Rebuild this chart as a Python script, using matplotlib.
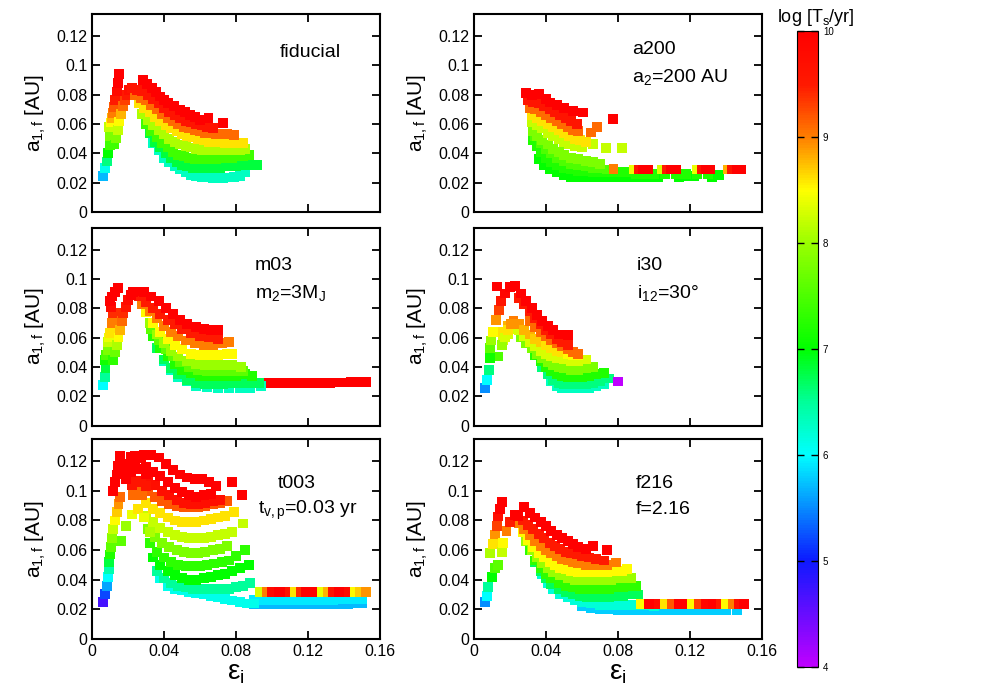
import numpy as np
import matplotlib.pyplot as plt
from matplotlib.colors import LinearSegmentedColormap, Normalize

plt.rcParams['font.family'] = ['Liberation Sans', 'DejaVu Sans']
plt.rcParams['mathtext.fontset'] = 'custom'
plt.rcParams['mathtext.rm'] = 'Liberation Sans'
plt.rcParams['mathtext.it'] = 'Liberation Sans:italic'

# ---- fiducial: each row is one track of squares (eps_i, a_1f), colour = log Ts
fid_eps = [
    [.0059, .0072, .0082, .0091, .0100, .0098, .0096, .0103, .0109, .0114, .0120, .0128, .0137, .0145, .0152],
    [.0125, .0133, .0143, .0152, .0161, .017, .0182, .0193, .0206, .022],
    [.034, .037, .040, .043, .046, .049, .052, .055, .058, .061, .064, .067, .070, .073, .076, .079, .082, .085],
    [.032, .035, .038, .041, .044, .047, .050, .053, .056, .059, .062, .065, .068, .071, .074, .077, .080, .083, .086, .089, .0915],
    [.030, .033, .036, .039, .042, .045, .048, .051, .054, .057, .060, .063, .066, .069, .072, .075, .078, .081, .084, .087],
    [.028, .031, .034, .037, .040, .043, .046, .049, .052, .055, .058, .061, .064, .067, .070, .073, .076, .079, .082, .085],
    [.026, .029, .032, .035, .038, .041, .044, .047, .050, .053, .056, .059, .062, .065, .068, .071, .074, .077, .080, .084],
    [.024, .027, .030, .033, .036, .039, .042, .045, .048, .051, .054, .057, .060, .063, .066, .069, .072, .075, .079],
    [.022, .025, .028, .031, .034, .037, .040, .043, .046, .049, .052, .055, .058, .061, .064, .067],
    [.0282, .0307, .0332, .0355, .0378, .0401, .0424, .0457, .049, .0518, .0545, .0572, .060, .0647, .073],
]
fid_a = [
    [.0246, .0298, .0344, .0401, .0458, .052, .0578, .061, .064, .0675, .0715, .0765, .0822, .088, .094],
    [.046, .0503, .056, .0617, .067, .072, .076, .080, .083, .0845],
    [.047, .042, .037, .034, .031, .029, .027, .0255, .0245, .024, .0235, .0232, .0232, .0232, .0235, .024, .0245, .0275],
    [.054, .048, .044, .040, .037, .034, .032, .031, .030, .030, .030, .030, .030, .030, .031, .031, .031, .032, .032, .032, .032],
    [.060, .055, .051, .047, .044, .041, .039, .038, .037, .036, .036, .036, .036, .036, .037, .037, .037, .038, .038, .039],
    [.067, .063, .059, .056, .053, .050, .048, .046, .045, .044, .043, .042, .042, .042, .042, .042, .042, .042, .042, .043],
    [.074, .071, .068, .065, .062, .059, .057, .055, .053, .052, .051, .050, .049, .048, .048, .048, .047, .047, .047, .047],
    [.080, .078, .076, .073, .070, .067, .064, .062, .060, .058, .057, .056, .055, .054, .054, .053, .053, .053, .0526],
    [.0845, .083, .0825, .080, .077, .074, .071, .068, .066, .064, .062, .061, .060, .059, .058, .0575],
    [.0902, .0873, .0845, .0816, .0788, .0765, .0742, .072, .0697, .068, .0663, .0645, .0628, .064, .0606],
]
fid_logT = [
    [5.7, 6.1, 6.6, 7.0, 7.4, 7.8, 8.2, 8.5, 8.8, 9.0, 9.2, 9.5, 9.8, 10, 10],
    [7.4, 7.8, 8.2, 8.5, 8.8, 9.1, 9.3, 9.5, 9.7, 9.8],
    6.3, 6.8, 7.4, 8.1, 8.6, 9.1, 9.6, 10,
]

# ---- a200
a200_eps = [
    [.036, .039, .042, .046, .050, .054, .058, .062, .066, .070, .074, .078, .082, .086, .090, .094, .098, .102, .114, .118, .122, .132, .136],
    [.033, .035, .037, .040, .043, .046, .050, .054, .058, .062, .066, .070, .074, .078, .082, .086, .090, .095, .100, .106, .112, .118, .124, .130],
    [.034, .037, .040, .043, .046, .050, .054, .058, .062, .066, .070, .074],
    [.033, .035, .038, .041, .044, .047, .050, .054, .058, .062, .066, .070],
    [.032, .035, .038, .041, .044, .047, .050, .053, .056, .060, .066, .0733, .082],
    [.032, .035, .038, .041, .044, .047, .050, .053, .056, .059, .062],
    [.031, .034, .037, .040, .043, .046, .049, .052, .055, .058, .0648, .0685],
    [.030, .033, .036, .039, .042, .045, .048, .051, .054, .057],
    [.029, .032, .0363, .040, .0422, .046, .050, .055, .0604, .0774],
    [.0775, .089, .0915, .094, .0965, .1045, .107, .1095, .112, .124, .1265, .129, .131, .141, .1435, .146, .1485],
]
a200_a = [
    [.036, .032, .029, .027, .025, .024, .0235, .0235, .0235, .0235, .0235, .0235, .024, .024, .024, .024, .024, .024, .024, .0245, .0245, .024, .025],
    [.049, .045, .041, .037, .034, .032, .030, .029, .028, .028, .027, .027, .027, .027, .027, .027, .026, .026, .026, .026, .026, .026, .026, .026],
    [.052, .047, .043, .040, .037, .035, .033, .032, .031, .030, .030, .029],
    [.055, .052, .049, .046, .043, .041, .039, .037, .036, .035, .034, .033],
    [.061, .059, .057, .054, .052, .050, .048, .046, .045, .044, .0464, .0435, .0435],
    [.066, .064, .062, .060, .058, .056, .054, .052, .050, .049, .048],
    [.071, .070, .068, .066, .064, .062, .060, .058, .056, .055, .0542, .058],
    [.076, .075, .074, .072, .070, .068, .066, .064, .062, .060],
    [.081, .080, .0806, .077, .0747, .073, .071, .069, .0678, .0633],
    [.0295, .029, .029, .029, .029, .029, .029, .029, .029, .029, .029, .029, .029, .029, .029, .029, .029],
]
a200_logT = [
    7.0, 7.2, 7.5, 7.8, 8.2, 8.6, 9.1, 9.6, 10,
    [9.0, 8.4, 9.6, 10, 10, 8.3, 9.5, 10, 10, 8.4, 9.6, 10, 10, 8.8, 9.6, 10, 10],
]

# ---- m03
m03_eps = [
    [.068, .072, .076, .080, .084, .088, .092, .096, .100, .104, .108, .112, .116, .120, .124, .128, .132, .136, .140, .144, .148, .152],
    [.040, .044, .048, .053, .058, .064, .070, .076, .082, .088, .094],
    [.036, .040, .044, .048, .053, .058, .063, .068, .073, .078, .083, .088, .093],
    [.034, .038, .042, .046, .050, .055, .060, .065, .070, .075, .080, .085, .089],
    [.033, .037, .041, .045, .049, .054, .059, .064, .069, .074, .079, .084],
    [.032, .036, .040, .044, .048, .053, .058, .063, .068, .073, .078, .083],
    [.030, .034, .038, .042, .046, .050, .055, .060, .065, .070, .075, .078],
    [.028, .032, .036, .040, .044, .048, .052, .057, .062, .067, .072, .076],
    [.026, .030, .034, .038, .042, .046, .050, .055, .060, .065, .070],
    [.025, .029, .033, .037, .041, .045, .049, .053, .058, .062, .066, .070],
    [.0063, .0072, .0075, .0072, .0080, .0090, .0090, .0095, .0100, .0110, .0118, .0105, .0100, .0110, .0130, .0146],
    [.0118, .0128, .0138, .0147, .0155, .0165, .0174, .0187, .020, .0215, .023, .0248],
]
m03_a = [
    [.0285, .0285, .0286, .0286, .0287, .0287, .0288, .0288, .0289, .0289, .029, .029, .029, .0291, .0291, .0292, .0292, .0293, .0293, .0294, .0294, .0295],
    [.044, .038, .033, .030, .027, .026, .0255, .0255, .0255, .0258, .027],
    [.053, .045, .039, .035, .031, .029, .028, .028, .028, .029, .029, .029, .029],
    [.061, .053, .047, .042, .038, .036, .034, .034, .034, .034, .034, .035, .034],
    [.066, .058, .052, .047, .043, .040, .038, .037, .037, .037, .037, .037],
    [.070, .062, .056, .051, .047, .044, .042, .041, .041, .041, .041, .040],
    [.077, .070, .064, .059, .055, .052, .049, .048, .048, .048, .049, .049],
    [.083, .078, .073, .068, .064, .061, .058, .056, .055, .055, .056, .057],
    [.088, .084, .080, .076, .072, .069, .066, .063, .061, .060, .059],
    [.0914, .091, .088, .085, .080, .076, .072, .069, .067, .066, .065, .065],
    [.0277, .0333, .039, .0447, .048, .0516, .0572, .060, .063, .070, .0766, .081, .085, .088, .091, .0937],
    [.0447, .050, .055, .060, .0652, .071, .0766, .081, .0857, .089, .091, .0914],
]
m03_logT = [
    10, 6.3, 6.7, 7.2, 7.6, 8.0, 8.5, 9.0, 9.5, 10,
    [6.0, 6.5, 6.8, 7.1, 7.5, 7.8, 8.2, 8.4, 8.6, 9.0, 9.4, 9.8, 10, 10, 10, 10],
    [7.3, 7.7, 8.1, 8.5, 8.8, 9.1, 9.4, 9.6, 9.8, 10, 10, 10],
]

# ---- i30
i30_eps = [
    [.043, .046, .049, .052, .055, .058, .061, .064, .068, .072],
    [.038, .041, .044, .047, .050, .054, .058, .062, .066, .070, .075],
    [.034, .037, .040, .043, .046, .049, .052, .056, .060, .064, .068, .072],
    [.026, .029, .032, .035, .038, .041, .044, .047, .050, .054, .058, .062, .066],
    [.016, .019, .022, .025, .028, .031, .034, .037, .040, .043, .046, .050, .054, .058, .062],
    [.016, .019, .0219, .025, .028, .031, .034, .037, .040, .043, .046, .049, .052, .055, .058],
    [.0135, .0154, .0172, .0190, .0205],
    [.031, .034, .037, .040, .043, .046, .049, .052, .055, .058],
    [.025, .028, .031, .034, .037, .040, .043, .046, .049, .052],
    [.023, .026, .029, .032, .035, .038, .041, .044, .047, .052],
    [.0061, .0074, .0083, .0089, .0089, .0093, .0107, .0122, .014, .0152, .0172, .020, .0228],
    [.0126, .080],
]
i30_a = [
    [.030, .027, .0255, .0254, .0254, .0254, .0254, .0256, .027, .028],
    [.040, .035, .031, .029, .028, .028, .028, .028, .029, .030, .032],
    [.048, .044, .040, .037, .035, .034, .033, .033, .033, .034, .035, .036],
    [.060, .056, .053, .049, .046, .043, .041, .040, .039, .038, .038, .039, .040],
    [.058, .062, .066, .065, .061, .057, .054, .051, .049, .047, .046, .045, .044, .044, .045],
    [.064, .068, .071, .069, .065, .062, .059, .057, .055, .053, .051, .050, .049, .048, .048],
    [.047, .055, .060, .065, .069],
    [.071, .067, .064, .061, .058, .056, .054, .052, .050, .049],
    [.087, .083, .078, .073, .069, .065, .062, .059, .057, .055],
    [.095, .090, .085, .080, .0755, .0715, .068, .065, .062, .0618],
    [.0254, .031, .038, .046, .053, .058, .064, .072, .079, .085, .090, .0945, .095],
    [.0948, .030],
]
i30_logT = [
    6.3, 6.6, 7.2, 7.8, 8.3,
    [8.6, 8.8, 9.0, 8.9, 8.8, 8.8, 8.7, 8.7, 8.6, 8.6, 8.6, 8.6, 8.5, 8.5, 8.5],
    [7.5, 8.0, 8.3, 8.6, 8.9],
    9.1, 9.5, 10,
    [5.5, 6.0, 6.6, 7.1, 7.6, 8.0, 8.5, 8.9, 9.3, 9.6, 9.9, 10, 10],
    [10, 4.0],
]

# ---- t003
t003_eps = [
    [.090, .094, .098, .102, .106, .110, .114, .118, .122, .126, .130, .134, .138, .142, .146, .150],
    [.090, .094, .098, .102, .106, .110, .114, .118, .122, .126, .130, .134, .138, .142, .146, .150],
    [.0934, .097, .100, .104, .107, .110, .113, .116, .119, .122, .125, .128, .131, .134, .137, .140, .143, .146, .149, .152],
    [.038, .042, .046, .050, .054, .058, .062, .066, .070, .074, .078, .082, .086, .090],
    [.036, .040, .044, .048, .052, .056, .060, .064, .068, .072, .076, .080, .084, .088],
    [.034, .038, .042, .046, .050, .054, .058, .062, .066, .070, .074, .078, .082, .087],
    [.032, .036, .040, .044, .048, .052, .056, .060, .064, .068, .072, .076, .080, .085],
    [.031, .035, .039, .043, .047, .051, .055, .059, .063, .067, .071, .075],
    [.030, .034, .038, .042, .046, .050, .054, .058, .062, .066, .070, .074, .078, .084],
    [.030, .034, .038, .042, .046, .050, .054, .058, .062, .066, .070, .074, .079],
    [.031, .035, .039, .043, .047, .051, .055, .059, .063, .067, .071, .075],
    [.031, .035, .039, .043, .047, .051, .055, .059, .063, .067, .071],
    [.030, .034, .038, .042, .046, .050, .054, .058, .062, .066],
    [.025, .029, .033, .037, .041, .045, .049, .053, .057, .061, .065, .069, .0776, .0832],
    [.016, .019, .022, .0257, .029, .032],
    [.023, .0255, .028],
    [.022, .0245, .027, .030],
    [.019, .0215, .024, .027, .030],
    [.0165, .019, .0215, .024, .027],
    [.0059, .0072, .0082, .0091, .0094, .0096, .0100, .0104, .0111, .0118, .0128, .0137, .0147, .0156],
    [.0115, .0128, .0137, .0146, .0156],
]
t003_a = [
    [.0235, .0235, .0235, .0234, .0234, .0234, .0234, .0234, .0235, .0235, .0235, .0236, .0237, .0238, .024, .0242],
    [.0265, .0265, .0265, .0264, .0264, .0264, .0264, .0264, .0265, .0265, .0265, .0266, .0267, .0268, .027, .0272],
    [.032, .032, .032, .032, .032, .032, .032, .032, .032, .032, .032, .032, .032, .032, .032, .032, .032, .032, .032, .032],
    [.041, .036, .034, .033, .032, .031, .030, .029, .028, .027, .026, .025, .024, .024],
    [.046, .041, .038, .036, .035, .034, .034, .034, .034, .034, .034, .035, .036, .038],
    [.055, .050, .046, .043, .041, .040, .040, .041, .042, .043, .044, .046, .048, .050],
    [.065, .059, .055, .052, .050, .049, .049, .049, .050, .051, .052, .053, .056, .060],
    [.074, .069, .065, .062, .060, .059, .058, .058, .059, .060, .061, .063],
    [.083, .079, .075, .072, .070, .069, .068, .068, .068, .069, .070, .071, .072, .078],
    [.092, .088, .085, .082, .080, .079, .079, .079, .080, .081, .082, .083, .086],
    [.100, .096, .093, .091, .090, .089, .089, .089, .090, .091, .092, .093],
    [.108, .104, .100, .097, .094, .092, .091, .091, .092, .093, .094],
    [.116, .113, .110, .106, .102, .099, .097, .096, .097, .098],
    [.1227, .124, .124, .1225, .118, .114, .111, .109, .108, .108, .106, .103, .106, .097],
    [.066, .076, .084, .088, .082, .072],
    [.097, .099, .097],
    [.104, .107, .106, .103],
    [.108, .113, .116, .115, .111],
    [.112, .118, .123, .1235, .122],
    [.0249, .0305, .036, .0416, .047, .052, .057, .062, .068, .074, .080, .086, .091, .096],
    [.100, .106, .111, .117, .1238],
]
t003_logT = [
    5.7, 5.9,
    [8.3, 9.0, 9.8, 10, 10, 9.6, 8.6, 9.4, 10, 10, 10, 8.4, 8.8, 9.6, 10, 10, 9.8, 8.5, 8.7, 8.9],
    6.1, 6.5, 7.0, 7.3, 7.8, 8.2, 8.6, 9.2, 9.7, 10, 10,
    [7.6, 8.0, 8.4, 8.6, 8.4, 8.1],
    9.1, 9.6, 10, 10,
    [4.7, 5.2, 5.6, 6.0, 6.4, 6.8, 7.2, 7.6, 7.9, 8.2, 8.5, 8.7, 8.9, 9.1],
    10,
]

# ---- f216
f216_eps = [
    [.060, .065, .070, .075, .080, .085, .090, .095, .100, .105, .110, .115, .120, .125, .130, .135, .140, .146],
    [.038, .041, .044, .048, .052, .056, .060, .065, .070, .075, .080, .085, .090, .095, .100],
    [.093, .097, .100, .103, .106, .110, .114, .118, .121, .125, .129, .133, .137, .140, .144, .147, .150],
    [.034, .037, .040, .043, .047, .051, .055, .059, .063, .067, .071, .075, .079, .083, .087, .091],
    [.031, .034, .037, .040, .043, .047, .051, .055, .059, .063, .067, .071, .075, .079, .083, .087, .090],
    [.029, .032, .035, .038, .041, .044, .048, .052, .056, .060, .064, .068, .072, .076, .080, .084, .087],
    [.027, .030, .033, .036, .039, .042, .045, .048, .051, .054, .058, .062, .066, .070, .074, .078, .082, .085],
    [.025, .028, .031, .034, .037, .040, .043, .046, .049, .052, .055, .058, .062, .066, .070, .074, .079],
    [.024, .027, .030, .033, .036, .039, .042, .045, .048, .051, .054, .057, .060, .064, .068, .072],
    [.028, .031, .034, .037, .040, .043, .046, .049, .052, .055, .058, .062, .066, .0737],
    [.0061, .0070, .0079, .0098, .0117, .0089, .0104, .0117, .0126, .0135, .0144, .0154],
    [.0135, .0154, .0163, .0181, .020, .0228, .0246],
]
f216_a = [
    [.022, .021, .0205, .020, .0198, .0195, .0193, .0193, .0193, .0193, .0193, .0193, .0193, .0193, .0193, .0193, .0193, .0193],
    [.044, .038, .034, .030, .028, .026, .025, .024, .023, .023, .023, .023, .023, .023, .022],
    [.0238, .0238, .0238, .0238, .0238, .0238, .0238, .0238, .0238, .0238, .0238, .0238, .0238, .0238, .0238, .0238, .0238],
    [.052, .046, .041, .037, .034, .032, .030, .029, .028, .028, .028, .028, .029, .029, .030, .030],
    [.060, .053, .048, .044, .041, .038, .036, .035, .034, .034, .034, .034, .034, .035, .035, .036, .036],
    [.066, .060, .055, .051, .048, .045, .043, .041, .040, .040, .040, .040, .040, .040, .041, .041, .041],
    [.072, .067, .062, .058, .055, .052, .050, .048, .047, .046, .045, .045, .045, .045, .045, .046, .046, .047],
    [.078, .074, .070, .066, .063, .060, .058, .056, .054, .053, .052, .051, .050, .050, .050, .050, .0516],
    [.083, .080, .077, .074, .071, .068, .065, .063, .061, .059, .058, .057, .056, .055, .054, .053],
    [.0893, .085, .082, .079, .076, .073, .070, .068, .066, .064, .062, .061, .0627, .0598],
    [.0249, .0293, .035, .0416, .048, .058, .064, .0705, .076, .0827, .088, .0927],
    [.050, .059, .065, .0727, .079, .0838, .0827],
]
f216_logT = [
    5.8, 6.2,
    [8.5, 10, 10, 9.8, 8.6, 9.2, 10, 10, 8.5, 9.3, 9.9, 10, 9.5, 8.5, 9.0, 9.7, 10],
    6.7, 7.3, 8.0, 8.5, 9.0, 9.5, 10,
    [5.5, 6.0, 6.5, 7.0, 7.5, 8.1, 8.6, 8.9, 9.3, 9.7, 10, 10],
    [7.6, 8.2, 8.5, 9.0, 9.5, 10, 10],
]

panels = [
    (fid_eps, fid_a, fid_logT, ['fiducial']),
    (a200_eps, a200_a, a200_logT, ['a200', r'a$_2$=200 AU']),
    (m03_eps, m03_a, m03_logT, ['m03', r'm$_2$=3M$_\mathrm{J}$']),
    (i30_eps, i30_a, i30_logT, ['i30', r'i$_{12}$=30°']),
    (t003_eps, t003_a, t003_logT, ['t003', r't$_\mathrm{v,p}$=0.03 yr']),
    (f216_eps, f216_a, f216_logT, ['f216', 'f=2.16']),
]
label_pos = [
    [(.1044, .109)],
    [(.0878, .111), (.0878, .092)],
    [(.0906, .109), (.0906, .0905)],
    [(.0906, .109), (.0906, .0905)],
    [(.103, .1053), (.0923, .0867)],
    [(.090, .1053), (.090, .0873)],
]

# rainbow map like the gnuplot palette: purple(4) -> blue -> cyan -> green -> yellow -> red(10)
nodes = [(4.0, (0.75, 0.0, 1.0)), (5.0, (0.05, 0.1, 1.0)), (6.0, (0.0, 1.0, 1.0)),
         (6.5, (0.0, 1.0, 0.6)), (7.0, (0.0, 1.0, 0.0)), (8.0, (0.6, 1.0, 0.0)),
         (8.5, (1.0, 1.0, 0.0)), (9.0, (1.0, 0.5, 0.0)), (9.5, (1.0, 0.1, 0.0)),
         (10.0, (1.0, 0.0, 0.0))]
cmap = LinearSegmentedColormap.from_list('ts', [((v - 4) / 6, c) for v, c in nodes])
norm = Normalize(4, 10)

fig = plt.figure(figsize=(9.81, 6.87), dpi=100)
col_x = [92 / 981, 474 / 981]
row_y = [(1 - 212 / 687, 198 / 687), (1 - 425.5 / 687, 198 / 687), (1 - 639 / 687, 200 / 687)]

for k, (eps_rows, a_rows, t_rows, texts) in enumerate(panels):
    r, c = divmod(k, 2)
    ax = fig.add_axes([col_x[c], row_y[r][0], 288 / 981, row_y[r][1]])
    for e, a, t in zip(eps_rows, a_rows, t_rows):
        col = np.broadcast_to(np.asarray(t, dtype=float), (len(e),))
        ax.scatter(e, a, c=col, cmap=cmap, norm=norm, marker='s', s=50, linewidths=0)
    ax.set_xlim(0, 0.16)
    ax.set_ylim(0, 0.135)
    ax.set_yticks([0, 0.02, 0.04, 0.06, 0.08, 0.1, 0.12])
    ax.set_yticklabels(['0', '0.02', '0.04', '0.06', '0.08', '0.1', '0.12'])
    ax.set_xticks([0, 0.04, 0.08, 0.12, 0.16])
    if r == 2:
        ax.set_xticklabels(['0', '0.04', '0.08', '0.12', '0.16'])
        ax.set_xlabel(r'ε$_\mathrm{i}$', fontsize=20, labelpad=1)
    else:
        ax.set_xticklabels([])
    ax.tick_params(direction='in', length=6, width=1.3, top=True, right=True, labelsize=11.5)
    for sp in ax.spines.values():
        sp.set_linewidth(1.5)
    ax.set_ylabel(r'a$_\mathrm{1,f}$ [AU]', fontsize=15, labelpad=6)
    for txt, (x, y) in zip(texts, label_pos[k]):
        ax.text(x, y, txt, fontsize=14, ha='left', va='center')

cax = fig.add_axes([797 / 981, 1 - 667 / 687, 21 / 981, 636 / 687])
sm = plt.cm.ScalarMappable(cmap=cmap, norm=norm)
cb = fig.colorbar(sm, cax=cax, ticks=[4, 5, 6, 7, 8, 9, 10])
cb.ax.tick_params(direction='in', length=5, width=1, left=True, right=True, labelsize=7)
cb.outline.set_linewidth(0.8)
fig.text(777 / 981, 1 - 18 / 687, r'log [T$_\mathrm{s}$/yr]', fontsize=13, ha='left', va='center')

fig.savefig('out.png', dpi=100)
